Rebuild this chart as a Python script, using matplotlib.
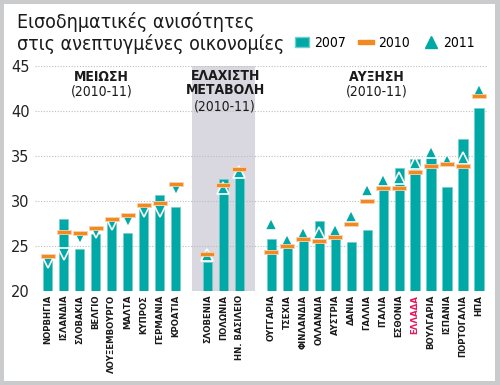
import matplotlib
matplotlib.use("Agg")
import matplotlib.pyplot as plt
from matplotlib import font_manager
from matplotlib.lines import Line2D
from matplotlib.patches import Patch, Rectangle

# pick a narrow font if one is installed
names = {f.name for f in font_manager.fontManager.ttflist}
if "Liberation Sans Narrow" in names:
    NARROW = dict(family="Liberation Sans Narrow")
else:
    NARROW = dict(family="DejaVu Sans", stretch="condensed")

# data (Gini-like index)
countries_down = ["ΝΟΡΒΗΓΙΑ", "ΙΣΛΑΝΔΙΑ", "ΣΛΟΒΑΚΙΑ", "ΒΕΛΓΙΟ", "ΛΟΥΞΕΜΒΟΥΡΓΟ",
                  "ΜΑΛΤΑ", "ΚΥΠΡΟΣ", "ΓΕΡΜΑΝΙΑ", "ΚΡΟΑΤΙΑ"]
v2007_down = [23.8, 28.0, 24.6, 26.3, 27.7, 26.4, 29.7, 30.6, 29.3]
v2010_down = [23.9, 26.5, 26.4, 27.0, 28.0, 28.4, 29.5, 29.7, 31.9]
v2011_down = [23.2, 24.1, 25.9, 26.5, 27.4, 27.7, 28.9, 28.9, 31.3]

countries_flat = ["ΣΛΟΒΕΝΙΑ", "ΠΟΛΩΝΙΑ", "ΗΝ. ΒΑΣΙΛΕΙΟ"]
v2007_flat = [23.2, 32.4, 32.7]
v2010_flat = [24.1, 31.7, 33.5]
v2011_flat = [24.0, 31.4, 33.2]

countries_up = ["ΟΥΓΓΑΡΙΑ", "ΤΣΕΧΙΑ", "ΦΙΝΛΑΝΔΙΑ", "ΟΛΛΑΝΔΙΑ", "ΑΥΣΤΡΙΑ", "ΔΑΝΙΑ",
                "ΓΑΛΛΙΑ", "ΙΤΑΛΙΑ", "ΕΣΘΟΝΙΑ", "ΕΛΛΑΔΑ", "ΒΟΥΛΓΑΡΙΑ", "ΙΣΠΑΝΙΑ",
                "ΠΟΡΤΟΓΑΛΙΑ", "ΗΠΑ"]
v2007_up = [25.8, 24.8, 25.5, 27.7, 26.2, 25.4, 26.7, 31.9, 33.6, 34.6, 34.9, 31.5, 36.9, 40.3]
v2010_up = [24.3, 25.0, 25.7, 25.5, 26.0, 27.4, 30.0, 31.4, 31.4, 33.2, 33.9, 34.1, 33.9, 41.6]
v2011_up = [27.4, 25.6, 26.4, 26.4, 26.7, 28.3, 31.2, 32.3, 32.5, 34.2, 35.4, 34.5, 34.7, 42.3]

TEAL = "#00a9a6"
ORANGE = "#f28a22"
FRAME = "#cacbcd"
SHADE = "#d9d8e1"

groups = [
    (countries_down, v2007_down, v2010_down, v2011_down, "v"),
    (countries_flat, v2007_flat, v2010_flat, v2011_flat, "^"),
    (countries_up, v2007_up, v2010_up, v2011_up, "^"),
]

# orange dash marker (wide flat rectangle)
dash = [(-1, -0.28), (1, -0.28), (1, 0.28), (-1, 0.28), (-1, -0.28)]

fig = plt.figure(figsize=(5, 3.85), dpi=100)
fig.patch.set_facecolor(FRAME)
fig.patches.append(Rectangle((4 / 500, 4 / 385), 1 - 9 / 500, 1 - 8 / 385,
                             transform=fig.transFigure, facecolor="white",
                             edgecolor="none", zorder=-5))
ax = fig.add_axes([0.07, 0.245, 0.904, 0.584])
ax.set_zorder(1)
ax.set_facecolor("none")

ax.axvspan(9, 13, color=SHADE, zorder=0, lw=0)

labels = []
start = 0
for names_g, a, b, c, tri in groups:
    xs = list(range(start, start + len(names_g)))
    ax.bar(xs, [v - 20 for v in a], bottom=20, width=0.58, color=TEAL,
           edgecolor="#6fcfcb", linewidth=0.5, zorder=2)
    ax.plot(xs, c, ls="none", marker=tri, ms=8, color=TEAL,
            mec="white", mew=1.2, zorder=3)
    ax.plot(xs, b, ls="none", marker=dash, ms=10.5, color=ORANGE,
            mec="#fbd2ae", mew=0.6, zorder=4)
    labels += list(zip(xs, names_g))
    start += len(names_g) + 1

ax.set_xlim(-0.8, 27.5)
ax.set_ylim(20, 45)
ax.set_yticks([20, 25, 30, 35, 40, 45])
for y in [20, 25, 30, 35, 40, 45]:
    ax.axhline(y, color="#bdbdbd", lw=0.8, ls=(0, (1, 1.5)), zorder=1)
for s in ax.spines.values():
    s.set_visible(False)
ax.tick_params(axis="y", length=0, pad=4, labelsize=10.5, labelcolor="#222222")
ax.tick_params(axis="x", length=0, pad=3)
ax.set_xticks([p for p, _ in labels])
ax.set_xticklabels([n for _, n in labels], rotation=90, fontsize=6.8,
                   fontweight="bold", va="top", **NARROW)
for t in ax.get_xticklabels():
    if t.get_text() == "ΕΛΛΑΔΑ":
        t.set_color("#e8175d")
    else:
        t.set_color("#1a1a1a")

# group headers
hdr = dict(ha="center", va="top", fontsize=10, color="#1a1a1a", **NARROW)
ax.text(3.35, 44.5, "ΜΕΙΩΣΗ", fontweight="bold", **hdr)
ax.text(3.35, 42.9, "(2010-11)", **hdr)
ax.text(11.1, 44.6, "ΕΛΑΧΙΣΤΗ\nΜΕΤΑΒΟΛΗ", fontweight="bold", linespacing=1.0, **hdr)
ax.text(11.1, 41.3, "(2010-11)", **hdr)
ax.text(20.6, 44.5, "ΑΥΞΗΣΗ", fontweight="bold", **hdr)
ax.text(20.6, 42.9, "(2010-11)", **hdr)

fig.text(17 / 500, 1 - 12 / 385, "Εισοδηματικές ανισότητες\nστις ανεπτυγμένες οικονομίες",
         ha="left", va="top", fontsize=14, color="#1a1a1a", linespacing=1.1, **NARROW)

handles = [
    Patch(facecolor=TEAL, edgecolor="#6fcfcb"),
    Line2D([], [], ls="none", marker=dash, ms=12, color=ORANGE, mec=ORANGE),
    Line2D([], [], ls="none", marker="^", ms=9, color=TEAL),
]
fig.legend(handles, ["2007", "2010", "2011"], ncol=3, frameon=False,
           loc="center left", bbox_to_anchor=(0.565, 0.888), handlelength=1.0,
           handletextpad=0.35, columnspacing=1.0, prop=dict(size=10, **NARROW))

fig.savefig("out.png", dpi=100, facecolor=fig.get_facecolor())
